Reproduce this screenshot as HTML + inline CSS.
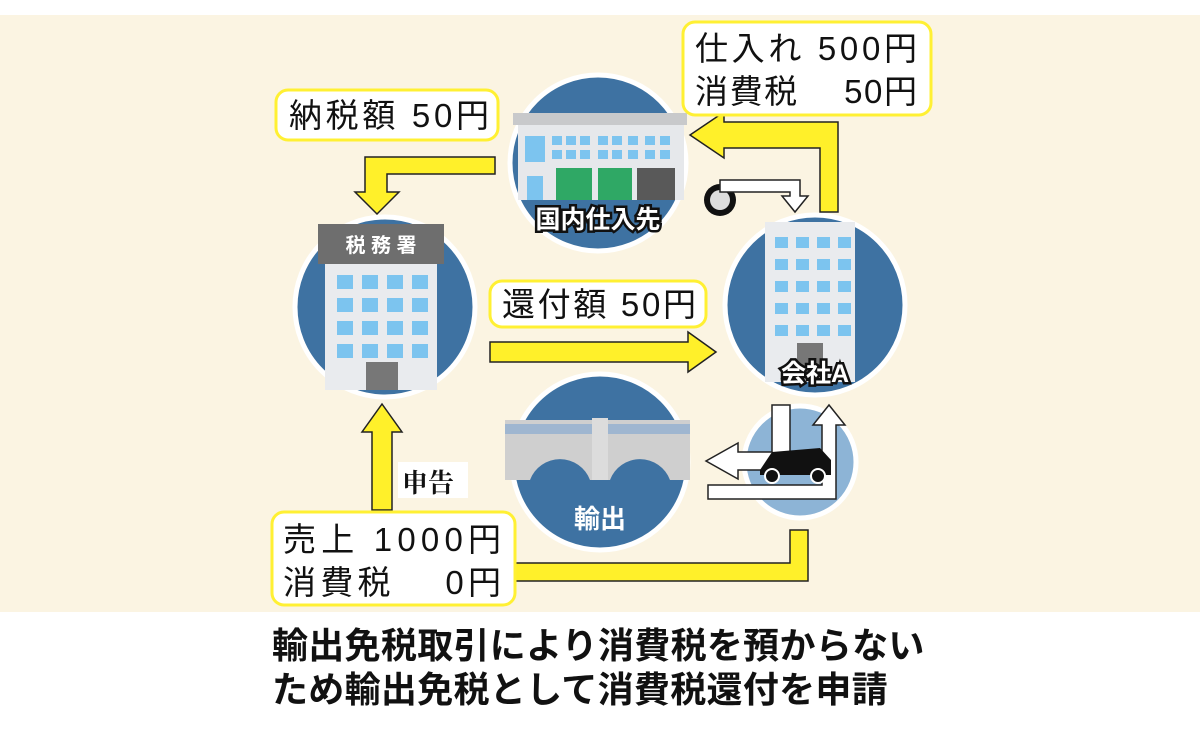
<!DOCTYPE html>
<html><head><meta charset="utf-8"><style>
body{margin:0;width:1200px;height:739px;overflow:hidden;background:#fff;font-family:"Liberation Sans","Noto Sans CJK JP",sans-serif}
svg{position:absolute;left:0;top:0}
.cap{position:absolute;left:272px;white-space:nowrap;font-size:36px;font-weight:bold;color:#111;line-height:44px;letter-spacing:0.3px}
</style></head><body>
<svg width="1200" height="739" viewBox="0 0 1200 739" font-family="Liberation Sans, Noto Sans CJK JP, sans-serif">
<rect x="0" y="15" width="1200" height="597" fill="#fbf4e2"/>
<g stroke="#fff" stroke-width="5">
<circle cx="385" cy="307" r="90" fill="#3e72a2"/>
<circle cx="598" cy="163" r="88" fill="#3e72a2"/>
<circle cx="815" cy="305" r="90" fill="#3e72a2"/>
<circle cx="600" cy="462" r="88" fill="#3e72a2"/>
<circle cx="800" cy="462" r="56" fill="#8db4d6"/>
</g>
<rect x="325" y="260" width="112" height="130" fill="#e9ebee"/>
<rect x="318" y="224" width="126" height="40" fill="#6e6e6e"/>
<text x="381" y="252" font-size="20" font-weight="bold" fill="#fff" text-anchor="middle">税 務 署</text>
<g fill="#7cc4ef">
<rect x="337" y="275" width="16" height="14"/><rect x="362" y="275" width="16" height="14"/><rect x="387" y="275" width="16" height="14"/><rect x="412" y="275" width="16" height="14"/>
<rect x="337" y="298" width="16" height="14"/><rect x="362" y="298" width="16" height="14"/><rect x="387" y="298" width="16" height="14"/><rect x="412" y="298" width="16" height="14"/>
<rect x="337" y="321" width="16" height="14"/><rect x="362" y="321" width="16" height="14"/><rect x="387" y="321" width="16" height="14"/><rect x="412" y="321" width="16" height="14"/>
<rect x="337" y="344" width="16" height="14"/><rect x="362" y="344" width="16" height="14"/><rect x="387" y="344" width="16" height="14"/><rect x="412" y="344" width="16" height="14"/>
</g>
<rect x="366" y="362" width="32" height="28" fill="#777"/>
<rect x="518" y="122" width="166" height="78" fill="#e6e8eb"/>
<rect x="513" y="113" width="174" height="12" fill="#c8c9cb"/>
<g fill="#7cc4ef">
<rect x="525" y="136" width="20" height="26"/>
<rect x="552" y="136" width="10" height="9"/><rect x="566" y="136" width="10" height="9"/><rect x="580" y="136" width="10" height="9"/><rect x="598" y="136" width="10" height="9"/><rect x="612" y="136" width="10" height="9"/><rect x="628" y="136" width="10" height="9"/><rect x="645" y="136" width="10" height="9"/><rect x="660" y="136" width="10" height="9"/>
<rect x="552" y="150" width="10" height="9"/><rect x="566" y="150" width="10" height="9"/><rect x="580" y="150" width="10" height="9"/><rect x="598" y="150" width="10" height="9"/><rect x="612" y="150" width="10" height="9"/><rect x="628" y="150" width="10" height="9"/><rect x="645" y="150" width="10" height="9"/><rect x="660" y="150" width="10" height="9"/>
<rect x="527" y="176" width="16" height="24"/>
</g>
<rect x="556" y="168" width="36" height="32" fill="#2fa865"/>
<rect x="598" y="168" width="34" height="32" fill="#2fa865"/>
<rect x="637" y="168" width="38" height="32" fill="#595959"/>
<text x="598" y="228" font-size="25" font-weight="bold" fill="#fff" stroke="#111" stroke-width="5" paint-order="stroke" text-anchor="middle">国内仕入先</text>
<circle cx="720" cy="200" r="16" fill="#111"/><circle cx="720" cy="200" r="10" fill="#ddd"/>
<rect x="765" y="222" width="90" height="160" fill="#e9ebee"/>
<g fill="#7cc4ef">
<rect x="775" y="237" width="13" height="11"/><rect x="796" y="237" width="13" height="11"/><rect x="817" y="237" width="13" height="11"/><rect x="838" y="237" width="13" height="11"/>
<rect x="775" y="259" width="13" height="11"/><rect x="796" y="259" width="13" height="11"/><rect x="817" y="259" width="13" height="11"/><rect x="838" y="259" width="13" height="11"/>
<rect x="775" y="281" width="13" height="11"/><rect x="796" y="281" width="13" height="11"/><rect x="817" y="281" width="13" height="11"/><rect x="838" y="281" width="13" height="11"/>
<rect x="775" y="303" width="13" height="11"/><rect x="796" y="303" width="13" height="11"/><rect x="817" y="303" width="13" height="11"/><rect x="838" y="303" width="13" height="11"/>
<rect x="775" y="325" width="13" height="11"/><rect x="796" y="325" width="13" height="11"/><rect x="817" y="325" width="13" height="11"/><rect x="838" y="325" width="13" height="11"/>
</g>
<rect x="797" y="343" width="26" height="30" fill="#777"/>
<text x="815" y="382" font-size="25" font-weight="bold" fill="#fff" stroke="#111" stroke-width="5" paint-order="stroke" text-anchor="middle">会社A</text>
<path d="M505 420 H690 V480 H670 A32 32 0 0 0 610 480 H590 A32 32 0 0 0 530 480 H505 Z" fill="#cfcfcf"/>
<rect x="505" y="424" width="185" height="10" fill="#9fb6d0"/>
<rect x="592" y="418" width="16" height="62" fill="#dcdcdc"/>
<text x="600" y="528" font-size="26" font-weight="bold" fill="#fff" text-anchor="middle">輸出</text>
<g fill="#fff" stroke="#222" stroke-width="1.5">
<path d="M720 180 H800 V196 H808 L795 212 L782 196 H790 V192 H720 Z"/>
<path d="M790 405 V470 H738 V479 L706 461 L738 443 V452 H772 V405 Z"/>
<path d="M708 485 H822 V425 H813 L829 405 L845 425 H836 V499 H708 Z"/>
</g>
<path d="M760 470 L772 452 L820 448 L831 460 V475 H760 Z" fill="#111"/>
<circle cx="772" cy="476" r="7" fill="#111" stroke="#fff" stroke-width="2"/><circle cx="818" cy="476" r="7" fill="#111" stroke="#fff" stroke-width="2"/>
<g fill="#fff02a" stroke="#222" stroke-width="1.5">
<path d="M500 155 H370 V190 H360 L382 212 L404 190 H392 V172 H500 Z" transform="translate(-5,2)"/>
<path d="M490 342 H688 V332 L716 352 L688 372 V362 H490 Z"/>
<path d="M372 510 V432 H362 L382 404 L402 432 H392 V510 Z"/>
<path d="M515 563 H790 V530 H808 V581 H515 Z"/>
<path d="M846 212 V122 H732 V112 L698 135 L732 158 V148 H828 V212 Z" transform="translate(-8,0)"/>
</g>
<g fill="#fff" stroke="#fff033" stroke-width="3">
<rect x="276" y="90" width="222" height="50" rx="12"/>
<rect x="683" y="22" width="248" height="93" rx="12"/>
<rect x="490" y="281" width="216" height="46" rx="12"/>
<rect x="272" y="512" width="243" height="93" rx="12"/>
</g>
<rect x="398" y="462" width="70" height="36" fill="#fff"/>
<g font-size="33" fill="#111">
<text x="289" y="127" textLength="200">納税額 50円</text>
<text x="695" y="60" textLength="222">仕入れ 500円</text>
<text x="695" y="103" textLength="222">消費税　 50円</text>
<text x="502" y="316" textLength="194">還付額 50円</text>
<text x="283" y="551" textLength="218">売上 1000円</text>
<text x="283" y="594" textLength="218">消費税　  0円</text>
</g>
<text x="402" y="492" font-size="26" font-weight="bold" fill="#111" font-family="Liberation Serif, Noto Serif CJK SC, serif">申告</text>
</svg>
<div class="cap" style="top:624px">輸出免税取引により消費税を預からない</div>
<div class="cap" style="top:668px">ため輸出免税として消費税還付を申請</div>
</body></html>
